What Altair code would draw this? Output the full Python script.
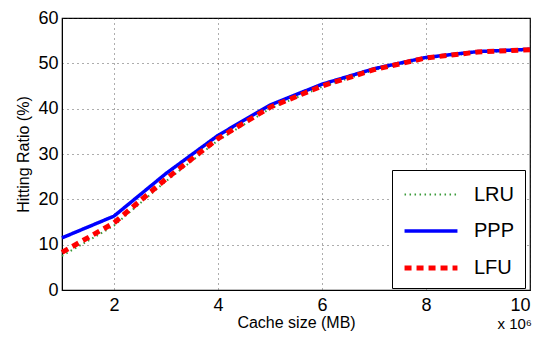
import altair as alt
import pandas as pd

cache_size = [1, 2, 3, 4, 5, 6, 7, 8, 9, 10]
lru = [7.5, 14.2, 24.0, 33.0, 40.0, 44.8, 48.5, 51.1, 52.4, 53.0]
ppp = [11.5, 16.3, 25.7, 34.1, 40.8, 45.4, 48.8, 51.3, 52.6, 53.1]
lfu = [8.3, 14.8, 24.5, 33.4, 40.3, 45.0, 48.6, 51.2, 52.5, 53.0]
series = ["LRU", "PPP", "LFU"]
colors = ["#3a9a3a", "#0000ff", "#ff0000"]

rows = []
for name, vals in zip(series, [lru, ppp, lfu]):
    for x, v in zip(cache_size, vals):
        rows.append({"size": x, "ratio": v, "policy": name})
df = pd.DataFrame(rows)

font = "Liberation Sans"

x_enc = alt.X("size:Q", scale=alt.Scale(domain=[1, 10], nice=False),
              axis=alt.Axis(values=[2, 4, 6, 8, 10], title="Cache size (MB)",
                            grid=True, gridDash=[1, 4], gridColor="#333333",
                            gridOpacity=0.8, ticks=False, labelPadding=6))
y_enc = alt.Y("ratio:Q", scale=alt.Scale(domain=[0, 60], nice=False),
              axis=alt.Axis(values=[0, 10, 20, 30, 40, 50, 60], title="Hitting Ratio (%)",
                            grid=True, gridDash=[1, 4], gridColor="#333333",
                            gridOpacity=0.8, ticks=False, labelPadding=4))
color_enc = alt.Color("policy:N", scale=alt.Scale(domain=series, range=colors),
                      legend=alt.Legend(title=None, orient="none", legendX=330, legendY=152,
                                        symbolType="M-2,0L2,0", symbolSize=700,
                                        symbolStrokeWidth=4.5, labelFontSize=20,
                                        labelFont=font, rowPadding=11, labelOffset=27,
                                        padding=10, strokeColor="black",
                                        fillColor="white", symbolOffset=13))
dash_enc = alt.StrokeDash("policy:N", scale=alt.Scale(domain=series,
                          range=[[1.5, 3.5], [1, 0], [7, 5]]), legend=None)
width_enc = alt.StrokeWidth("policy:N", scale=alt.Scale(domain=series, range=[2, 5, 4.5]),
                            legend=None)

lines_layers = [
    alt.Chart(df[df.policy == s]).mark_line().encode(
        x=x_enc, y=y_enc, color=color_enc, strokeDash=dash_enc, strokeWidth=width_enc)
    for s in series
]

exp_text = alt.Chart(pd.DataFrame({"t": ["x 10\u2076"]})).mark_text(
    font=font, fontSize=15, align="right", baseline="middle", color="black").encode(
    text="t:N", x=alt.value(470), y=alt.value(306))

chart = alt.layer(*lines_layers, exp_text).properties(
    width=468, height=272,
    padding={"left": 54, "top": 10, "right": 4, "bottom": 53},
    autosize=alt.AutoSizeParams(type="none"),
).configure_view(stroke="black", strokeWidth=1.2).configure_axis(
    labelFont=font, titleFont=font, labelFontSize=18, titleFontSize=16,
    titleFontWeight="normal", labelColor="black", titleColor="black",
    domainColor="black", tickColor="black",
).configure_axisX(titlePadding=0).configure_axisY(titlePadding=6)

chart.save("out.html", embed_options={"renderer": "svg", "actions": False})
